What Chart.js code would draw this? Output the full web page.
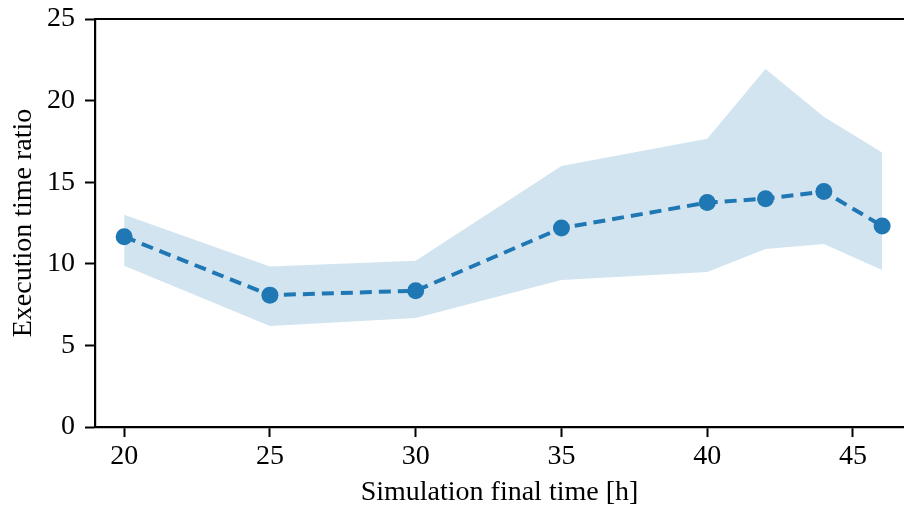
<!DOCTYPE html>
<html>
<head>
<meta charset="utf-8">
<script src="https://cdn.jsdelivr.net/npm/chart.js@4.4.0/dist/chart.umd.min.js"></script>
<style>
  html, body { margin: 0; padding: 0; background: #fff; }
</style>
</head>
<body>
<canvas id="ratioChart" width="904" height="506"></canvas>
<script>
// values
const finalTimes = [20, 25, 30, 35, 40, 42, 44, 46];
const meanRatio = [11.66, 8.08, 8.35, 12.19, 13.75, 13.99, 14.43, 12.32];
const upperRatio = [13.0, 9.83, 10.18, 15.99, 17.67, 21.93, 19.01, 16.82];
const lowerRatio = [9.88, 6.19, 6.68, 9.0, 9.49, 10.9, 11.21, 9.62];
const xTicks = [20, 25, 30, 35, 40, 45];
const yTicks = [0, 5, 10, 15, 20, 25];

const blue = "#1f77b4";
const bandFill = "rgba(31, 119, 180, 0.2)";

Chart.defaults.font.family = "'Liberation Serif', 'DejaVu Serif', serif";
Chart.defaults.font.size = 28;
Chart.defaults.color = "#000";

function toPoints(ys) {
  return finalTimes.map((x, i) => ({ x: x, y: ys[i] }));
}

// matplotlib-style top spine
const topSpine = {
  id: "topSpine",
  afterDraw(chart) {
    const { ctx, chartArea } = chart;
    ctx.save();
    ctx.strokeStyle = "#000";
    ctx.lineWidth = 2.2;
    ctx.beginPath();
    ctx.moveTo(chartArea.left, chartArea.top);
    ctx.lineTo(chartArea.right, chartArea.top);
    ctx.stroke();
    ctx.restore();
  },
};

const ctx = document.getElementById("ratioChart").getContext("2d");

new Chart(ctx, {
  type: "line",
  data: {
    datasets: [
      {
        label: "mean",
        data: toPoints(meanRatio),
        borderColor: blue,
        backgroundColor: blue,
        borderWidth: 4,
        borderDash: [12, 7],
        pointRadius: 8.5,
        pointBorderWidth: 0,
        pointBackgroundColor: blue,
        fill: false,
        tension: 0,
        order: 0,
      },
      {
        label: "lower",
        data: toPoints(lowerRatio),
        borderWidth: 0,
        borderColor: "rgba(0,0,0,0)",
        pointRadius: 0,
        fill: false,
        order: 2,
      },
      {
        label: "upper",
        data: toPoints(upperRatio),
        borderWidth: 0,
        borderColor: "rgba(0,0,0,0)",
        backgroundColor: bandFill,
        pointRadius: 0,
        fill: "-1",
        order: 1,
      },
    ],
  },
  options: {
    responsive: false,
    animation: false,
    devicePixelRatio: 1,
    layout: { autoPadding: false, padding: { top: 19, right: 0, bottom: 0, left: 0 } },
    plugins: {
      legend: { display: false },
      tooltip: { enabled: false },
    },
    scales: {
      x: {
        type: "linear",
        min: 19,
        max: 46.75,
        afterBuildTicks: (scale) => {
          scale.ticks = xTicks.map((v) => ({ value: v }));
        },
        afterFit: (scale) => {
          scale.height = 79;
          scale.paddingLeft = 0;
          scale.paddingRight = 0;
        },
        grid: {
          drawOnChartArea: false,
          drawTicks: true,
          tickLength: 10,
          tickColor: "#000",
          tickWidth: 2,
        },
        border: { color: "#000", width: 2.2 },
        ticks: { padding: 3, maxRotation: 0 },
        title: {
          display: true,
          text: "Simulation final time [h]",
          padding: { top: 0, bottom: -3 },
        },
      },
      y: {
        type: "linear",
        min: 0,
        max: 25,
        afterBuildTicks: (scale) => {
          scale.ticks = yTicks.map((v) => ({ value: v }));
        },
        afterFit: (scale) => {
          scale.width = 95;
          scale.paddingTop = 0;
          scale.paddingBottom = 0;
        },
        grid: {
          drawOnChartArea: false,
          drawTicks: true,
          tickLength: 10,
          tickColor: "#000",
          tickWidth: 2,
        },
        border: { color: "#000", width: 2.2 },
        ticks: { padding: 10 },
        title: {
          display: true,
          text: "Execution time ratio",
          padding: { top: 7, bottom: 0 },
        },
      },
    },
  },
  plugins: [topSpine],
});
</script>
</body>
</html>
